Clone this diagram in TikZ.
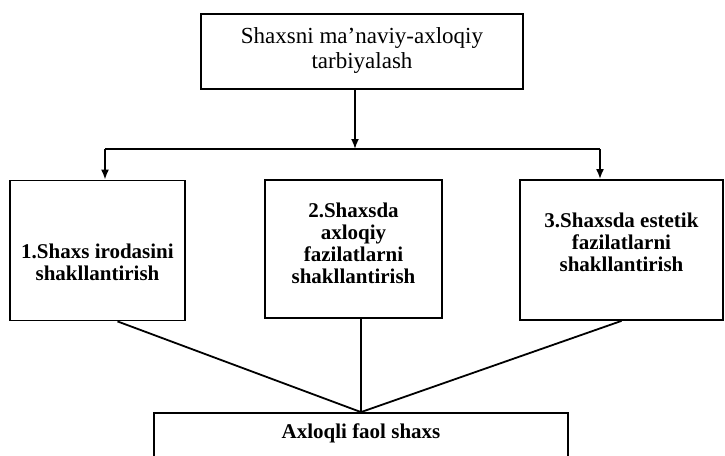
\documentclass[tikz,border=0pt]{standalone}
\usepackage{fontspec}
\setmainfont{Liberation Serif}
\usetikzlibrary{arrows.meta}
\begin{document}
\begin{tikzpicture}[x=0.5pt,y=-0.5pt,
  box/.style={draw,line width=0.9pt,inner sep=0pt},
  txt/.style={align=center,font=\fontsize{10.5}{11}\selectfont\bfseries},
  arr/.style={-{Latex[length=5pt,width=4pt]},line width=0.9pt},
  link/.style={line width=0.9pt}]
\useasboundingbox (0,0) rectangle (725,456);
\clip (0,0) rectangle (725,456);
\node[box,minimum width=161pt,minimum height=37.5pt] (top) at (362,51.5) {};
\node[txt,font=\fontsize{11.5}{12.5}\selectfont] (ttop) at (362,50) {Shaxsni ma’naviy-axloqiy\\tarbiyalash};
\node[box,minimum width=87.5pt,minimum height=70pt] (b1) at (97.5,250.5) {};
\node[txt] (t1) at (97.5,262) {1.Shaxs irodasini\\shakllantirish};
\node[box,minimum width=88.5pt,minimum height=69pt] (b2) at (353.5,249) {};
\node[txt] (t2) at (353.5,243) {2.Shaxsda\\axloqiy\\fazilatlarni\\shakllantirish};
\node[box,minimum width=101.5pt,minimum height=70pt] (b3) at (621.5,250) {};
\node[txt] (t3) at (621.5,242) {3.Shaxsda estetik\\fazilatlarni\\shakllantirish};
\node[box,minimum width=207pt,minimum height=40pt] (axl) at (361,453) {};
\node[txt] (tax) at (361,433) {Axloqli faol shaxs};
% ajratish
\coordinate (fork) at (355,149);
\coordinate (forkL) at (105,149);
\coordinate (forkR) at (600,149);
\draw[arr] (fork |- top.south) -- (fork);
\draw[link] (forkL) -- (forkR);
\draw[arr] (forkL) -- (forkL |- b1.north);
\draw[arr] (forkR) -- (forkR |- b3.north);
% birlashtirish
\draw[link] ([xshift=10pt]b1.south) -- (axl.north);
\draw[link] (axl.north |- b2.south) -- (axl.north);
\draw[link] (b3.south) -- (axl.north);
\end{tikzpicture}
\end{document}
